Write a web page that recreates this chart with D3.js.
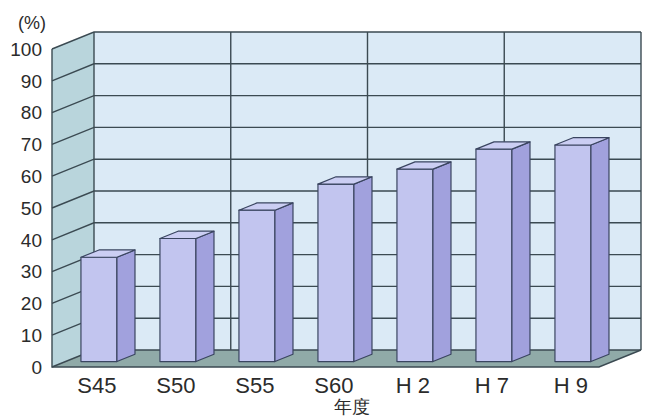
<!DOCTYPE html>
<html>
<head>
<meta charset="utf-8">
<script src="https://cdn.jsdelivr.net/npm/d3@7"></script>
<style>
  html, body { margin: 0; padding: 0; background: #ffffff; }
  svg { display: block; }
  text { font-family: "Liberation Sans", Arial, sans-serif; fill: #2b2b2b; }
</style>
</head>
<body>
<svg id="chart" width="650" height="418"></svg>
<script>
// Share by fiscal year (%)
const categories = ["S45", "S50", "S55", "S60", "H 2", "H 7", "H 9"];
const values = [32.8, 38.7, 47.6, 55.8, 60.5, 66.8, 68.1];
const yTicks = [0, 10, 20, 30, 40, 50, 60, 70, 80, 90, 100];
const xTitle = "年度";
const yUnit = "(%)";

const svg = d3.select("#chart");

// Oblique projection: depth z in [0,1] shifts right and up
const DX = 42, DY = 17;
const proj = (px, py, z) => [px + z * DX, py - z * DY];

// Front plane of the box
const x0 = 52, x1 = 599;
const y = d3.scaleLinear().domain([0, 100]).range([367, 49]);

// Bars sit between these depths
const zFront = 0.32, zBack = 0.75;
const x = d3.scaleBand().domain(categories)
  .range([46, 599]).paddingInner(0.5446).paddingOuter(0.2723);

const lineCol = "#3b4a52";
const poly = pts => "M" + pts.map(p => p.join(",")).join("L") + "Z";

// Back wall
svg.append("path")
  .attr("d", poly([proj(x0, y(0), 1), proj(x1, y(0), 1), proj(x1, y(100), 1), proj(x0, y(100), 1)]))
  .attr("fill", "#dbeaf6");

// Left side wall
svg.append("path")
  .attr("d", poly([proj(x0, y(0), 0), proj(x0, y(0), 1), proj(x0, y(100), 1), proj(x0, y(100), 0)]))
  .attr("fill", "#b9d5dc");

// Floor
svg.append("path")
  .attr("d", poly([proj(x0, y(0), 0), proj(x1, y(0), 0), proj(x1, y(0), 1), proj(x0, y(0), 1)]))
  .attr("fill", "#90aaa8");

// Horizontal grid on back wall and side wall
const grid = svg.append("g").attr("stroke", lineCol).attr("stroke-width", 1.4).attr("fill", "none");
yTicks.forEach(t => {
  const a = proj(x0, y(t), 0), b = proj(x0, y(t), 1), c = proj(x1, y(t), 1);
  grid.append("path").attr("d", `M${a}L${b}L${c}`);
});

// Vertical divisions on back wall
const xv = d3.scaleLinear().domain([0, 4]).range([x0, x1]);
d3.range(0, 5).forEach(i => {
  const a = proj(xv(i), y(0), 1), b = proj(xv(i), y(100), 1);
  grid.append("path").attr("d", `M${a}L${b}`);
});

// Box edges: left front edge, floor front edge, floor right edge
grid.append("path").attr("d", `M${proj(x0, y(100), 0)}L${proj(x0, y(0), 0)}L${proj(x1, y(0), 0)}L${proj(x1, y(0), 1)}`);

// Bars
const bars = svg.append("g").attr("stroke", "#3a4560").attr("stroke-width", 1.2).attr("stroke-linejoin", "round");
categories.forEach((c, i) => {
  const l = x(c), r = x(c) + x.bandwidth();
  const yt = y(values[i]), yb = y(0);
  const g = bars.append("g");
  // front face
  g.append("path").attr("fill", "#c2c5ef")
    .attr("d", poly([proj(l, yb, zFront), proj(r, yb, zFront), proj(r, yt, zFront), proj(l, yt, zFront)]));
  // right side face
  g.append("path").attr("fill", "#a1a1dd")
    .attr("d", poly([proj(r, yb, zFront), proj(r, yb, zBack), proj(r, yt, zBack), proj(r, yt, zFront)]));
  // top face
  g.append("path").attr("fill", "#cbcef3")
    .attr("d", poly([proj(l, yt, zFront), proj(r, yt, zFront), proj(r, yt, zBack), proj(l, yt, zBack)]));
});

// Y tick labels
svg.append("g").selectAll("text").data(yTicks).join("text")
  .attr("x", 42).attr("y", d => y(d))
  .attr("dy", "0.36em")
  .attr("text-anchor", "end")
  .attr("font-size", 19)
  .text(d => d);

// Unit label
svg.append("text").attr("x", 32).attr("y", 29).attr("text-anchor", "middle")
  .attr("font-size", 18).text(yUnit);

// Category labels
svg.append("g").selectAll("text").data(categories).join("text")
  .attr("x", d => proj(x(d) + x.bandwidth() / 2, 0, zFront)[0] - 2)
  .attr("y", 393)
  .attr("text-anchor", "middle")
  .attr("font-size", 22)
  .text(d => d);

// Axis title
svg.append("text").attr("x", 352).attr("y", 413).attr("text-anchor", "middle")
  .attr("font-family", "'Noto Sans CJK JP', sans-serif")
  .attr("font-size", 18).text(xTitle);
</script>
</body>
</html>
